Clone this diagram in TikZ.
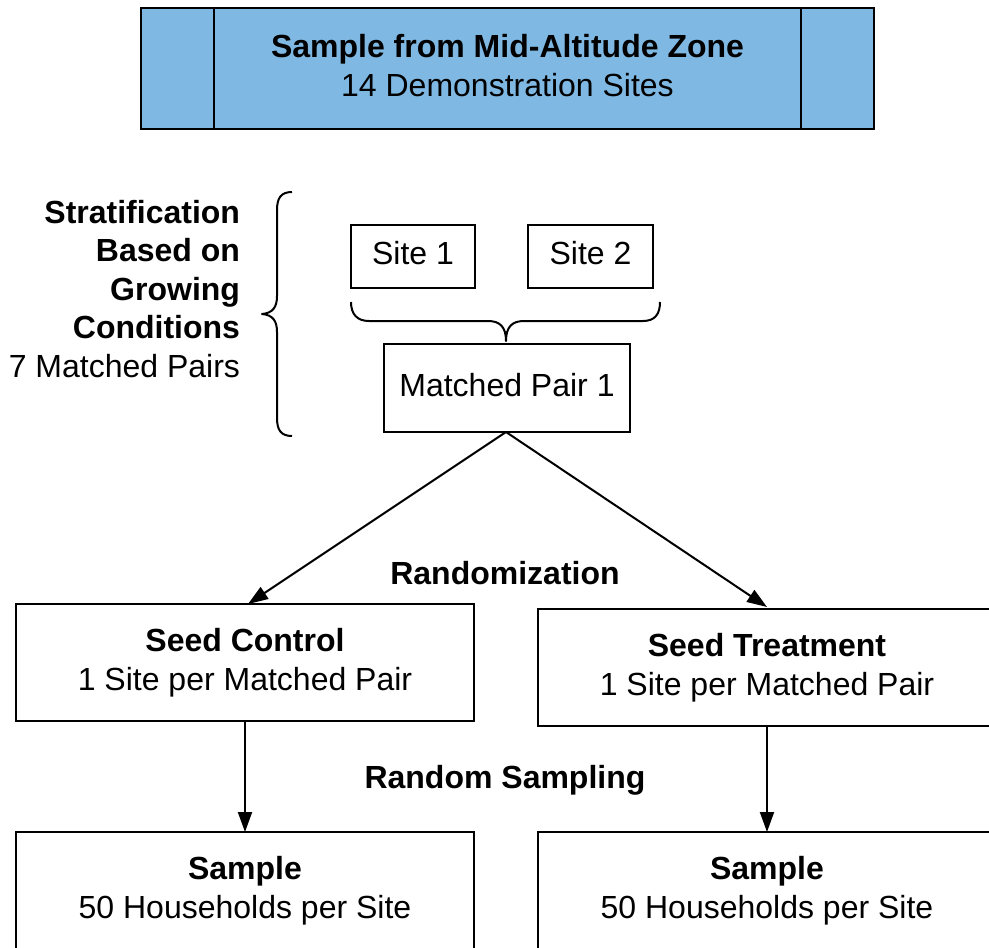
\documentclass[tikz,border=0pt]{standalone}
\usepackage{fontspec}
\setmainfont{Liberation Sans}
\usetikzlibrary{arrows.meta}
\definecolor{zoneblue}{HTML}{7FB9E3}
\newcommand{\dgmfont}{\fontsize{32}{38.5}\selectfont}
\begin{document}
\begin{tikzpicture}[x=1pt,y=-1pt,
  every node/.style={font=\dgmfont, inner sep=0pt, outer sep=0pt},
  box/.style={draw, line width=2pt, align=center, execute at end node=\vphantom{p}},
  bigbox/.style={box, minimum width=458pt, minimum height=117pt},
  brc/.style={draw, line width=2pt, line join=round},
  arr/.style={draw, line width=2pt, -{Triangle[length=20pt,width=14pt]}},
  lbl/.style={font=\dgmfont\bfseries}]
\useasboundingbox (0,0) rectangle (989,948);
\clip (0,0) rectangle (989,948);

% top process box
\node[box, fill=zoneblue, minimum width=733pt, minimum height=121pt] (zone) at (507.5,68.5)
  {\textbf{Sample from Mid-Altitude Zone}\\14 Demonstration Sites};
\draw[line width=2pt] ([xshift=73pt]zone.north west) -- ([xshift=73pt]zone.south west);
\draw[line width=2pt] ([xshift=-73pt]zone.north east) -- ([xshift=-73pt]zone.south east);

% stratification label
\node[anchor=east, align=right, execute at end node=\vphantom{p}] (strat) at (240,291.9)
  {\textbf{Stratification}\\\textbf{Based on}\\\textbf{Growing}\\\textbf{Conditions}\\7 Matched Pairs};

% left brace
\draw[brc] (292,192) .. controls (281,192) and (277,198) .. (277,210) -- (277,296)
  .. controls (277,307) and (273,313) .. (262,314)
  .. controls (273,315) and (277,321) .. (277,332) -- (277,418)
  .. controls (277,430) and (281,436) .. (292,436);

% sites
\node[box, minimum width=124pt, minimum height=63pt] (site1) at (413,256.5) {Site 1};
\node[box, minimum width=125pt, minimum height=63pt] (site2) at (590.5,256.5) {Site 2};

% bottom brace
\draw[brc] (351,302) .. controls (351,314) and (357,321) .. (369,321) -- (488,321)
  .. controls (500,321) and (506,327) .. (506,341)
  .. controls (506,327) and (512,321) .. (524,321) -- (643,321)
  .. controls (655,321) and (660,314) .. (660,302);

% matched pair
\node[box, minimum width=246pt, minimum height=88pt] (mp) at (507,388) {Matched Pair 1};

% randomization
\node[lbl] (rand) at (505,573) {Randomization};
\node[bigbox] (ctrl) at (245,662.5) {\textbf{Seed Control}\\1 Site per Matched Pair};
\node[bigbox] (treat) at (767,667.5) {\textbf{Seed Treatment}\\1 Site per Matched Pair};
\draw[arr] ([xshift=-1pt]mp.south) -- ([xshift=3pt]ctrl.north);
\draw[arr] ([xshift=-1pt]mp.south) -- ([yshift=2pt]treat.north);

% random sampling
\node[lbl] (rsamp) at (505,780.3) {Random Sampling};
\node[bigbox] (samp1) at (245,890.5) {\textbf{Sample}\\50 Households per Site};
\node[bigbox] (samp2) at (767,890.5) {\textbf{Sample}\\50 Households per Site};
\draw[arr] (ctrl.south) -- (samp1.north);
\draw[arr] (treat.south) -- (samp2.north);
\end{tikzpicture}
\end{document}
